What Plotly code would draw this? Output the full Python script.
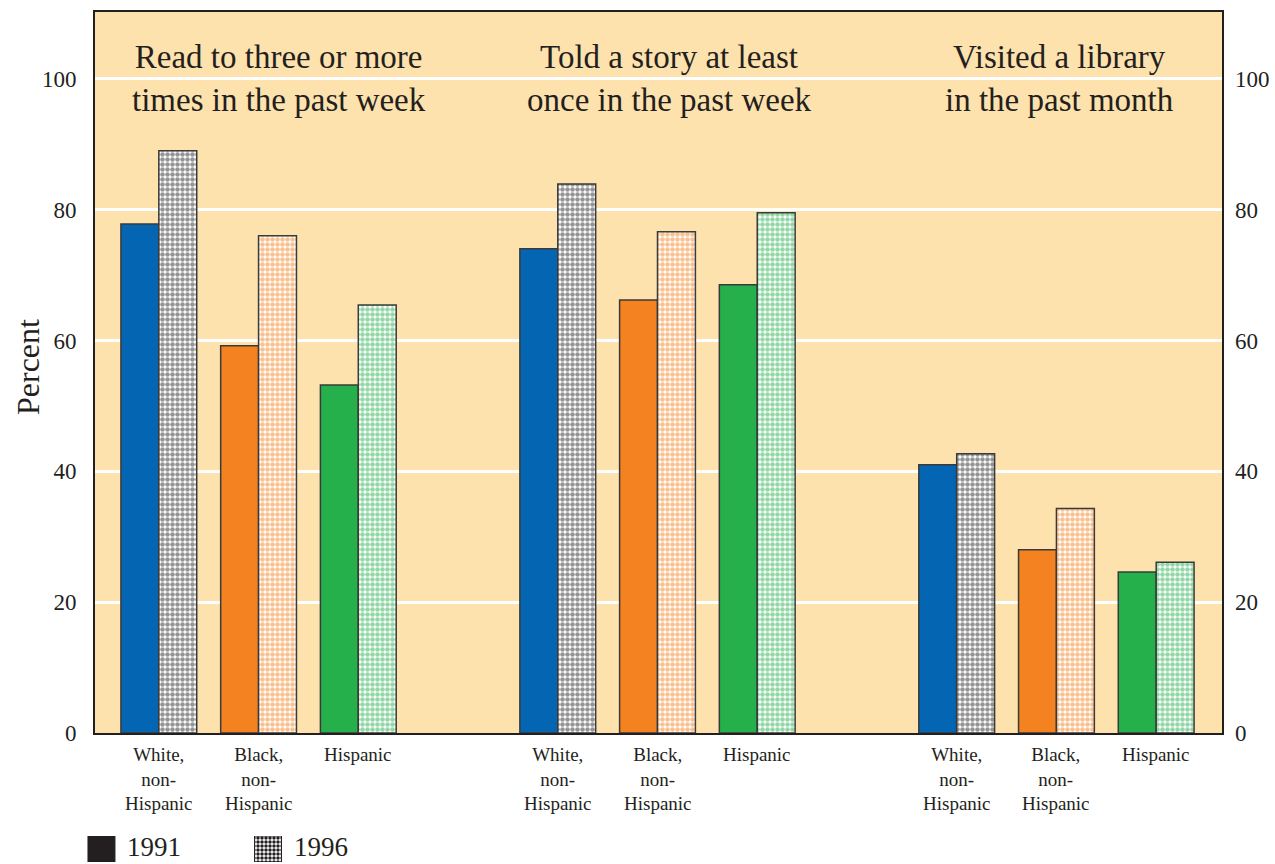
import plotly.graph_objects as go

# ---- data ----
activities = ["Read to three or more<br>times in the past week",
              "Told a story at least<br>once in the past week",
              "Visited a library<br>in the past month"]
groups = ["White,<br>non-<br>Hispanic", "Black,<br>non-<br>Hispanic", "Hispanic"]
positions = [0, 1, 2, 4, 5, 6, 8, 9, 10]
title_positions = [1.2, 5.12, 9.03]
vals_1991 = [77.8, 59.2, 53.2, 74.0, 66.2, 68.5, 41.0, 28.0, 24.6]
vals_1996 = [89.0, 76.0, 65.4, 83.9, 76.6, 79.5, 42.7, 34.3, 26.1]
y_ticks = [0, 20, 40, 60, 80, 100]
legend_labels = ["1991", "1996"]

# ---- styles ----
BLUE, ORANGE, GREEN, DARK = "#0465b2", "#f48221", "#25b04b", "#231f20"
BG = "#fde2ad"
group_colors = [BLUE, ORANGE, GREEN]
solid_colors = [group_colors[i % 3] for i in range(9)]
pattern_colors = [["#2a2a2a", ORANGE, GREEN][i % 3] for i in range(9)]
FONT = "Liberation Serif"
W, H = 1275, 864
PAPER_W, PAPER_H = 1222, 852  # with margins l=0,r=53,t=12,b=0

fig = go.Figure()
fig.add_trace(go.Bar(
    x=positions, y=vals_1991, name="1991",
    marker=dict(color=solid_colors, line=dict(color="#3a3a3a", width=1.5)),
    offsetgroup="a", hoverinfo="skip", showlegend=False))
fig.add_trace(go.Bar(
    x=positions, y=vals_1996, name="1996",
    marker=dict(color="white", line=dict(color="#3a3a3a", width=1.5),
                pattern=dict(shape=".", fgcolor=pattern_colors, bgcolor="white",
                             size=5, solidity=0.65, fillmode="overlay")),
    offsetgroup="b", hoverinfo="skip", showlegend=False))
# invisible trace for right axis
fig.add_trace(go.Scatter(x=[positions[0]], y=[y_ticks[0]], yaxis="y3", mode="markers",
                         marker=dict(opacity=0), hoverinfo="skip", showlegend=False))

# legend swatches as tiny bar subplot
fig.add_trace(go.Bar(x=[0], y=[1], xaxis="x2", yaxis="y2", width=0.162,
                     marker=dict(color=DARK, line=dict(color=DARK, width=1)),
                     hoverinfo="skip", showlegend=False))
fig.add_trace(go.Bar(x=[1], y=[1], xaxis="x2", yaxis="y2", width=0.162,
                     marker=dict(color="white", line=dict(color=DARK, width=1),
                                 pattern=dict(shape=".", fgcolor=DARK, bgcolor="white",
                                              size=4, solidity=0.6)),
                     hoverinfo="skip", showlegend=False))

x_dom0 = 95 / PAPER_W
y_dom0 = (H - 733) / PAPER_H

fig.update_layout(
    template="none",
    width=W, height=H, autosize=False,
    margin=dict(l=0, r=53, t=12, b=0, pad=0),
    paper_bgcolor="white", plot_bgcolor="rgba(0,0,0,0)",
    barmode="group", bargap=0.24, bargroupgap=0,
    font=dict(family=FONT, color=DARK),
    xaxis=dict(domain=[x_dom0, 1], range=[-0.64, 10.66], automargin=False,
               tickvals=positions, showticklabels=False,
               showline=True, linecolor=DARK, linewidth=2, mirror=True,
               showgrid=False, zeroline=False, ticks=""),
    yaxis=dict(domain=[y_dom0, 1], range=[0, 110.2], tickvals=y_ticks, automargin=False,
               tickfont=dict(size=23, family=FONT, color=DARK),
               showline=True, linecolor=DARK, linewidth=2, mirror=True,
               showgrid=True, gridcolor="white", gridwidth=3, zeroline=False,
               ticks="", ticklabelstandoff=12),
    yaxis3=dict(overlaying="y", side="right", anchor="x", range=[0, 110.2], automargin=False,
                tickvals=y_ticks, tickfont=dict(size=23, family=FONT, color=DARK),
                showgrid=False, zeroline=False, showline=False, ticks="",
                ticklabelstandoff=12),
    xaxis2=dict(domain=[60 / PAPER_W, 310 / PAPER_W], range=[-0.249, 1.252],
                visible=False, anchor="y2", fixedrange=True, automargin=False),
    yaxis2=dict(domain=[(H - 862) / PAPER_H, (H - 836) / PAPER_H], range=[0, 1],
                visible=False, anchor="x2", fixedrange=True, automargin=False),
    shapes=[dict(type="rect", xref="x domain", yref="y domain", x0=0, x1=1, y0=0, y1=1,
                 fillcolor=BG, line=dict(width=0), layer="below")],
)

annotations = []
for t, xp in zip(activities, title_positions):
    annotations.append(dict(text=t, x=xp, y=100, xref="x", yref="y", showarrow=False,
                            xanchor="center", yanchor="middle",
                            font=dict(size=33, family=FONT, color=DARK)))
for i, xp in enumerate(positions):
    annotations.append(dict(text=groups[i % 3], x=xp, y=(H - 742) / PAPER_H,
                            xref="x", yref="paper", showarrow=False,
                            xanchor="center", yanchor="top",
                            font=dict(size=19, family=FONT, color=DARK)))
annotations.append(dict(text="Percent", x=28 / PAPER_W, y=(H - 367) / PAPER_H,
                        xref="paper", yref="paper", showarrow=False, textangle=-90,
                        xanchor="center", yanchor="middle",
                        font=dict(size=32, family=FONT, color=DARK)))
for lab, px in zip(legend_labels, [125, 292]):
    annotations.append(dict(text=lab, x=px / PAPER_W, y=(H - 847) / PAPER_H,
                            xref="paper", yref="paper", showarrow=False,
                            xanchor="left", yanchor="middle",
                            font=dict(size=27, family=FONT, color=DARK)))
fig.update_layout(annotations=annotations)

fig.write_html("out.html", config={"displayModeBar": False, "responsive": False},
               post_script="document.body.style.margin='0';")
